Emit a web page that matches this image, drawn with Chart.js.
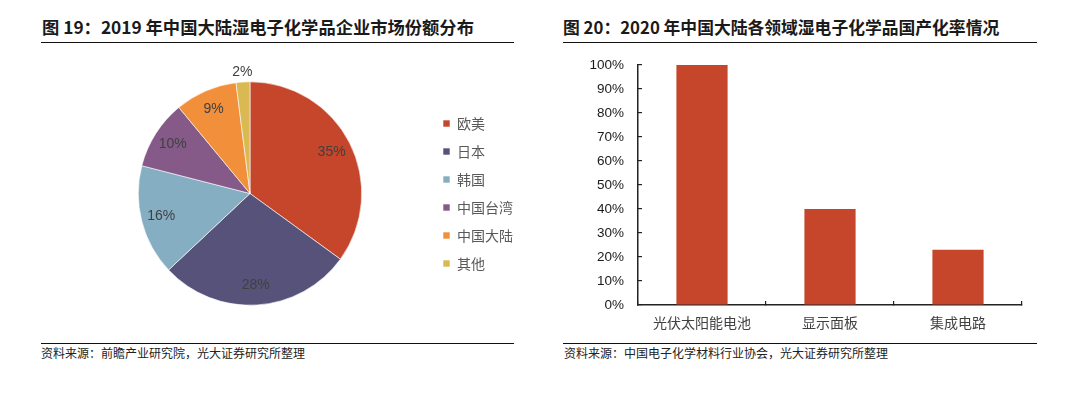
<!DOCTYPE html>
<html>
<head>
<meta charset="utf-8">
<script src="https://cdn.jsdelivr.net/npm/chart.js@4.4.1/dist/chart.umd.min.js"></script>
<style>
  html,body{margin:0;padding:0;background:#fff;}
  body{width:1080px;height:393px;position:relative;overflow:hidden;font-family:"Noto Sans CJK SC","Liberation Sans",sans-serif;}
  .title{position:absolute;top:14px;font-size:17.3px;font-weight:bold;color:#1a1a1a;white-space:nowrap;line-height:26px;}
  .rule{position:absolute;height:0;border-top:1.5px solid #111;}
  .src{position:absolute;top:344px;font-size:12px;color:#222;white-space:nowrap;line-height:18px;}
  .box{position:absolute;}
</style>
</head>
<body>
<div class="title" style="left:42px;">图 19：2019 年中国大陆湿电子化学品企业市场份额分布</div>
<div class="rule" style="left:41px;width:473px;top:42px;"></div>
<div class="rule" style="left:41px;width:473px;top:343px;"></div>
<div class="src" style="left:41px;">资料来源：前瞻产业研究院，光大证券研究所整理</div>

<div class="title" style="left:563px;font-size:16.8px;">图 20：2020 年中国大陆各领域湿电子化学品国产化率情况</div>
<div class="rule" style="left:563px;width:474px;top:42px;"></div>
<div class="rule" style="left:563px;width:474px;top:343px;"></div>
<div class="src" style="left:564px;">资料来源：中国电子化学材料行业协会，光大证券研究所整理</div>

<div class="box" style="left:41px;top:50px;width:500px;height:290px;"><canvas id="pie"></canvas></div>
<div class="box" style="left:560px;top:50px;width:480px;height:290px;"><canvas id="bar"></canvas></div>

<script>
// 左图：市场份额
const shareLabels = ["欧美", "日本", "韩国", "中国台湾", "中国大陆", "其他"];
const shareValues = [35, 28, 16, 10, 9, 2];
const shareColors = ["#C5462A", "#57527A", "#86AEC2", "#855A89", "#F18F3B", "#D8B952"];

// 右图：国产化率
const fieldLabels = ["光伏太阳能电池", "显示面板", "集成电路"];
const localRate = [100, 40, 23];
const yTicks = [0, 10, 20, 30, 40, 50, 60, 70, 80, 90, 100];

const CJK = '"Noto Sans CJK SC", sans-serif';
const LAT = '"Liberation Sans", Arial, sans-serif';

// percentage labels inside the slices (small ones outside)
const pieLabels = {
  id: "pieLabels",
  afterDatasetsDraw(chart){
    const ctx = chart.ctx;
    const arcs = chart.getDatasetMeta(0).data;
    ctx.save();
    ctx.font = "14px " + LAT;
    ctx.fillStyle = "#404040";
    ctx.textAlign = "center";
    ctx.textBaseline = "middle";
    arcs.forEach((a, i) => {
      const p = a.getProps(["x","y","startAngle","endAngle","outerRadius"], true);
      const mid = (p.startAngle + p.endAngle) / 2;
      const k = shareValues[i] < 5 ? 1.09 : 0.82;
      ctx.fillText(shareValues[i] + "%", p.x + Math.cos(mid) * p.outerRadius * k, p.y + Math.sin(mid) * p.outerRadius * k);
    });
    ctx.restore();
  }
};

new Chart(document.getElementById("pie"), {
  type: "pie",
  data: { labels: shareLabels, datasets: [{ data: shareValues, backgroundColor: shareColors, borderColor: "#fff", borderWidth: 0.6 }] },
  options: {
    responsive: true, maintainAspectRatio: false, animation: false,
    layout: { padding: { left: 30, right: 18, top: 31.5, bottom: 34.5 } },
    plugins: {
      legend: {
        position: "right",
        labels: {
          boxWidth: 7, boxHeight: 7, padding: 14, color: "#595959",
          font: { family: CJK, size: 14 }
        }
      },
      tooltip: { enabled: false }
    }
  },
  plugins: [pieLabels]
});

new Chart(document.getElementById("bar"), {
  type: "bar",
  data: { labels: fieldLabels, datasets: [{ data: localRate, backgroundColor: "#C5462A", categoryPercentage: 1, barPercentage: 0.4 }] },
  options: {
    responsive: true, maintainAspectRatio: false, animation: false,
    layout: { padding: { left: 0, right: 18, top: 15, bottom: 0 } },
    plugins: { legend: { display: false }, tooltip: { enabled: false } },
    scales: {
      x: {
        grid: { drawOnChartArea: false, tickLength: -4, color: "#222", lineWidth: 1.2 },
        border: { color: "#222", width: 1.5 },
        ticks: { padding: 13.5, color: "#404040", font: { family: CJK, size: 14 }, maxRotation: 0 },
        afterFit(s){ s.height = 35; s.paddingLeft = 0; s.paddingRight = 0; }
      },
      y: {
        min: 0, max: 100,
        grid: { drawOnChartArea: false, tickLength: -4, color: "#222", lineWidth: 1.2 },
        border: { color: "#222", width: 1.5 },
        afterBuildTicks(s){ s.ticks = yTicks.map(v => ({ value: v })); },
        ticks: { padding: 18, color: "#1a1a1a", font: { family: LAT, size: 13.5 }, callback: v => v + "%" },
        afterFit(s){ s.width = 78; s.paddingTop = 0; s.paddingBottom = 0; }
      }
    }
  }
});
</script>
</body>
</html>
